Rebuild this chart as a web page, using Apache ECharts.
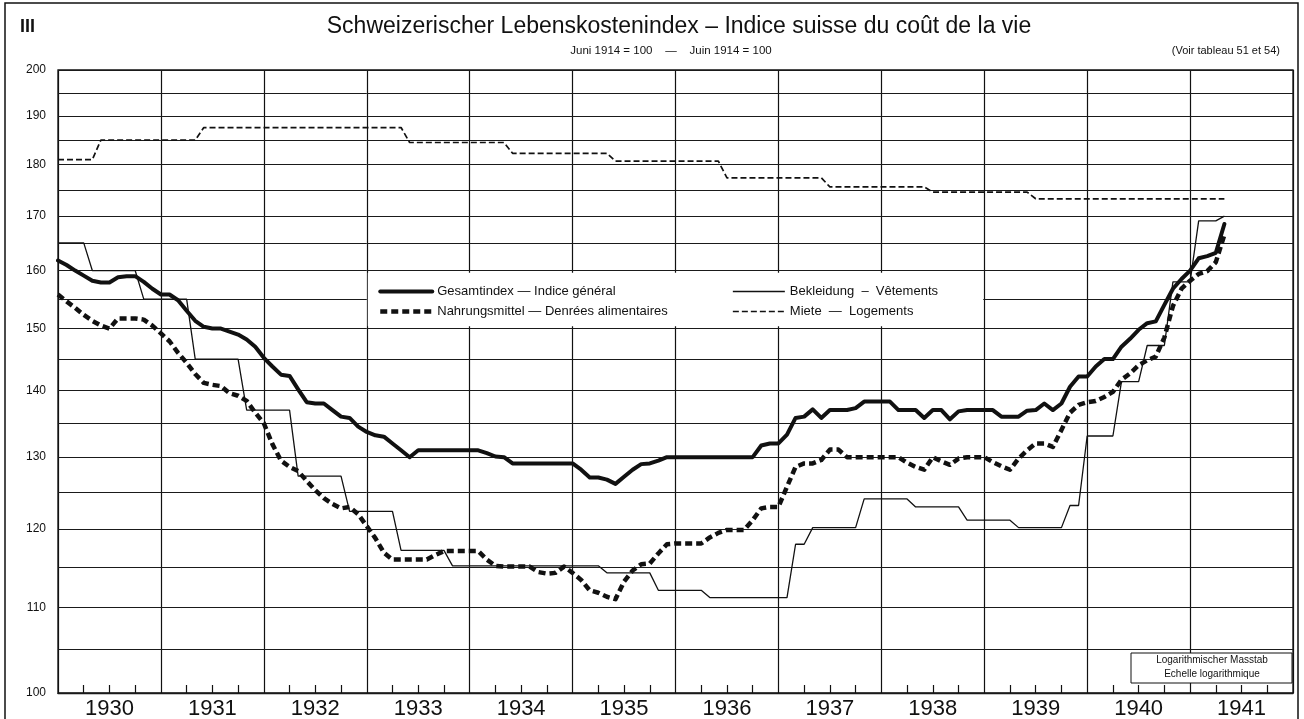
<!DOCTYPE html>
<html>
<head>
<meta charset="utf-8">
<script src="https://cdn.jsdelivr.net/npm/echarts@6/dist/echarts.min.js"></script>
<style>
html,body{margin:0;padding:0;background:#fff;}
#chart{width:1304px;height:719px;}
</style>
</head>
<body>
<div id="chart"></div>
<script>
// ---------- data (monthly, month-end positions starting Jan 1930) ----------
const startYear = 1930;
const yearLabels = ['1930','1931','1932','1933','1934','1935','1936','1937','1938','1939','1940','1941'];
const yGridValues = [100,105,110,115,120,125,130,135,140,145,150,155,160,165,170,175,180,185,190,195,200];
const yTickLabels = [100,110,120,130,140,150,160,170,180,190,200];

const seriesNames = {
  gesamt: 'Gesamtindex — Indice général',
  nahrung: 'Nahrungsmittel — Denrées alimentaires',
  bekleidung: 'Bekleidung  –  Vêtements',
  miete: 'Miete  —  Logements'
};

const gesamt = [
  161.8,161.0,160.0,159.1,158.2,157.9,157.9,158.8,159.0,159.0,158.0,156.8,
  155.8,155.8,154.8,153.0,151.3,150.3,150.0,150.0,149.5,149.0,148.2,147.0,
  145.2,143.8,142.5,142.3,140.2,138.2,138.0,138.0,137.0,136.0,135.8,134.5,
  133.7,133.2,133.0,132.0,131.0,130.0,131.0,131.0,131.0,131.0,131.0,131.0,
  131.0,131.0,130.6,130.1,130.0,129.1,129.1,129.1,129.1,129.1,129.1,129.1,
  129.1,128.2,127.1,127.1,126.8,126.2,127.2,128.2,129.0,129.1,129.5,130.0,
  130.0,130.0,130.0,130.0,130.0,130.0,130.0,130.0,130.0,130.0,131.7,132.0,
  132.0,133.3,135.8,136.0,137.1,135.8,137.0,137.0,137.0,137.3,138.3,138.3,
  138.3,138.3,137.0,137.0,137.0,135.8,137.0,137.0,135.6,136.8,137.0,137.0,
  137.0,137.0,136.0,136.0,136.0,136.9,137.0,138.0,137.0,138.0,140.6,142.2,
  142.2,143.8,145.0,145.0,147.0,148.3,149.8,150.9,151.2,154.0,156.8,158.5,
  160.0,162.2,162.6,163.2,168.5
];

const nahrung = [
  155.8,154.6,153.5,152.3,151.3,150.5,150.0,151.7,151.7,151.7,151.5,150.5,
  149.2,147.9,146.0,144.4,142.6,141.2,140.9,140.7,139.6,139.2,138.4,136.6,
  135.0,131.9,129.5,128.6,128.0,126.6,125.3,124.2,123.4,122.8,123.0,122.0,
  120.4,118.8,116.9,116.0,116.0,116.0,116.0,116.0,116.6,117.1,117.1,117.1,
  117.1,117.1,116.0,115.2,115.1,115.1,115.1,115.1,114.4,114.2,114.3,115.1,
  114.3,113.4,112.1,111.8,111.3,111.0,113.2,114.6,115.4,115.5,116.8,118.0,
  118.1,118.1,118.1,118.1,118.9,119.5,119.9,119.9,119.9,121.2,122.8,123.0,
  123.0,125.8,128.6,129.1,129.1,129.6,131.1,131.1,130.0,130.0,130.0,130.0,
  130.0,130.0,130.0,129.2,128.6,128.2,130.0,129.4,128.9,129.8,130.0,130.0,
  130.0,129.3,128.7,128.2,129.8,131.0,132.0,132.0,131.5,134.0,136.6,137.8,
  138.2,138.4,139.0,139.8,141.7,142.7,144.0,144.8,145.4,148.5,153.8,156.8,
  158.2,159.4,159.9,161.5,166.5
];

const bekleidung = [
  165.0,165.0,165.0,165.0,160.0,160.0,160.0,160.0,160.0,160.0,155.0,155.0,
  155.0,155.0,155.0,155.0,145.0,145.0,145.0,145.0,145.0,145.0,137.0,137.0,
  137.0,137.0,137.0,137.0,127.3,127.3,127.3,127.3,127.3,127.3,122.4,122.4,
  122.4,122.4,122.4,122.4,117.2,117.2,117.2,117.2,117.2,117.2,115.2,115.2,
  115.2,115.2,115.2,115.2,115.2,115.2,115.2,115.2,115.2,115.2,115.2,115.2,
  115.2,115.2,115.2,115.2,114.3,114.3,114.3,114.3,114.3,114.3,112.1,112.1,
  112.1,112.1,112.1,112.1,111.2,111.2,111.2,111.2,111.2,111.2,111.2,111.2,
  111.2,111.2,118.0,118.0,120.2,120.2,120.2,120.2,120.2,120.2,124.1,124.1,
  124.1,124.1,124.1,124.1,123.0,123.0,123.0,123.0,123.0,123.0,121.2,121.2,
  121.2,121.2,121.2,121.2,120.2,120.2,120.2,120.2,120.2,120.2,123.2,123.2,
  133.1,133.1,133.1,133.1,141.4,141.4,141.4,147.2,147.2,147.2,158.0,158.0,
  158.0,169.1,169.1,169.1,170.0
];

const miete = [
  181.0,181.0,181.0,181.0,181.0,185.0,185.0,185.0,185.0,185.0,185.0,185.0,
  185.0,185.0,185.0,185.0,185.0,187.6,187.6,187.6,187.6,187.6,187.6,187.6,
  187.6,187.6,187.6,187.6,187.6,187.6,187.6,187.6,187.6,187.6,187.6,187.6,
  187.6,187.6,187.6,187.6,187.6,184.5,184.5,184.5,184.5,184.5,184.5,184.5,
  184.5,184.5,184.5,184.5,184.5,182.3,182.3,182.3,182.3,182.3,182.3,182.3,
  182.3,182.3,182.3,182.3,182.3,180.7,180.7,180.7,180.7,180.7,180.7,180.7,
  180.7,180.7,180.7,180.7,180.7,180.7,177.4,177.4,177.4,177.4,177.4,177.4,
  177.4,177.4,177.4,177.4,177.4,177.4,175.6,175.6,175.6,175.6,175.6,175.6,
  175.6,175.6,175.6,175.6,175.6,175.6,174.6,174.6,174.6,174.6,174.6,174.6,
  174.6,174.6,174.6,174.6,174.6,174.6,173.3,173.3,173.3,173.3,173.3,173.3,
  173.3,173.3,173.3,173.3,173.3,173.3,173.3,173.3,173.3,173.3,173.3,173.3,
  173.3,173.3,173.3,173.3,173.3
];

// ---------- helpers ----------
const FONT = "'Liberation Sans', Arial, Helvetica, sans-serif";
const INK = '#111';
function toPoints(arr) { return arr.map((v, k) => [startYear + k / 12, v]); }

const gridMarkLines = yGridValues.map(v => ({
  yAxis: v,
  label: yTickLabels.indexOf(v) >= 0
    ? { show: true, position: 'start', formatter: String(v), distance: 12,
        color: INK, fontSize: 12, fontFamily: FONT, padding: [0, 0, 7, 0] }
    : { show: false }
}));

const legendCommon = {
  orient: 'vertical', top: 280, itemGap: 7,
  itemWidth: 52, itemHeight: 14, selectedMode: false,
  itemStyle: { color: 'rgba(0,0,0,0)', borderWidth: 0, opacity: 0 },
  lineStyle: { width: 'inherit', type: 'inherit', color: 'inherit' },
  textStyle: { color: INK, fontSize: 13, fontFamily: FONT }
};

const chart = echarts.init(document.getElementById('chart'));
chart.setOption({
  animation: false,
  backgroundColor: '#fff',
  grid: {
    left: 58, right: 11, top: 70, bottom: 26,
    show: true, borderColor: INK, borderWidth: 1.3,
    outerBoundsMode: 'none', containLabel: false
  },
  xAxis: [
    {
      type: 'value', min: 1930, max: 1942, interval: 1,
      axisLine: { show: true, lineStyle: { color: INK, width: 1.3 } },
      axisTick: { show: false, inside: true },
      minorTick: { show: true, splitNumber: 4, length: 8, lineStyle: { color: INK, width: 1.2 } },
      axisLabel: { show: false },
      splitLine: { show: true, lineStyle: { color: INK, width: 1.2 } },
      minorSplitLine: { show: false }
    },
    {
      type: 'value', min: 1930, max: 1942, interval: 0.5, position: 'bottom',
      axisLine: { show: false }, axisTick: { show: false }, splitLine: { show: false },
      axisLabel: {
        show: true, margin: 5, color: INK, fontSize: 22, fontFamily: FONT,
        formatter: function (v) {
          const i = Math.floor(v) - startYear;
          return (Math.abs(v - Math.floor(v) - 0.5) < 1e-6 && yearLabels[i]) ? yearLabels[i] : '';
        }
      }
    }
  ],
  yAxis: {
    type: 'log', logBase: 10, min: 100, max: 200,
    axisLine: { show: false }, axisTick: { show: false },
    axisLabel: { show: false }, splitLine: { show: false }
  },
  legend: [
    Object.assign({}, legendCommon, { data: [seriesNames.gesamt, seriesNames.nahrung], left: 373 }),
    Object.assign({}, legendCommon, { data: [seriesNames.bekleidung, seriesNames.miete], left: 727 })
  ],
  series: [
    {
      name: seriesNames.miete, type: 'line', data: toPoints(miete),
      symbol: 'none', z: 2, silent: true,
      lineStyle: { color: INK, width: 1.7, type: [6, 3] },
      itemStyle: { color: INK }
    },
    {
      name: seriesNames.bekleidung, type: 'line', data: toPoints(bekleidung),
      symbol: 'none', z: 2, silent: true,
      lineStyle: { color: INK, width: 1.3, type: 'solid' },
      itemStyle: { color: INK }
    },
    {
      name: seriesNames.nahrung, type: 'line', data: toPoints(nahrung),
      symbol: 'none', z: 3, silent: true,
      lineStyle: { color: INK, width: 4.5, type: [7, 4], join: 'round' },
      itemStyle: { color: INK }
    },
    {
      name: seriesNames.gesamt, type: 'line', data: toPoints(gesamt),
      symbol: 'none', z: 3, silent: true,
      lineStyle: { color: INK, width: 4, type: 'solid', join: 'round', cap: 'round' },
      itemStyle: { color: INK },
      markLine: {
        silent: true, symbol: ['none', 'none'], z: 0.5, animation: false,
        lineStyle: { color: '#1a1a1a', width: 1, type: 'solid' },
        emphasis: { disabled: true },
        label: { show: false },
        data: gridMarkLines
      },
      markArea: {
        silent: true, z: 1,
        itemStyle: { color: '#fff' },
        label: { show: false },
        emphasis: { disabled: true },
        data: [[{ xAxis: 1933.01, yAxis: 159.6 }, { xAxis: 1938.99, yAxis: 150.4 }]]
      }
    }
  ],
  graphic: [
    { type: 'rect', silent: true, z: 20,
      shape: { x: 5, y: 3, width: 1293, height: 730 },
      style: { fill: 'none', stroke: INK, lineWidth: 1.5 } },
    { type: 'text', x: 20, y: 27, silent: true, z: 20,
      style: { text: 'III', fontSize: 18, fontWeight: 'bold', fontFamily: FONT, fill: INK,
               align: 'left', textAlign: 'left', verticalAlign: 'middle', textVerticalAlign: 'middle' } },
    { type: 'text', x: 679, y: 27, silent: true, z: 20,
      style: { text: 'Schweizerischer Lebenskostenindex – Indice suisse du coût de la vie',
               fontSize: 23, fontFamily: FONT, fill: INK,
               align: 'center', textAlign: 'center', verticalAlign: 'middle', textVerticalAlign: 'middle' } },
    { type: 'text', x: 671, y: 51, silent: true, z: 20,
      style: { text: 'Juni 1914 = 100    —    Juin 1914 = 100', fontSize: 11.5, fontFamily: FONT, fill: INK,
               align: 'center', textAlign: 'center', verticalAlign: 'middle', textVerticalAlign: 'middle' } },
    { type: 'text', x: 1280, y: 51, silent: true, z: 20,
      style: { text: '(Voir tableau 51 et 54)', fontSize: 11, fontFamily: FONT, fill: INK,
               align: 'right', textAlign: 'right', verticalAlign: 'middle', textVerticalAlign: 'middle' } },
    { type: 'rect', silent: true, z: 20,
      shape: { x: 1131, y: 653, width: 161, height: 30 },
      style: { fill: '#fff', stroke: INK, lineWidth: 1 } },
    { type: 'text', x: 1212, y: 660, silent: true, z: 21,
      style: { text: 'Logarithmischer Masstab', fontSize: 10, fontFamily: FONT, fill: INK,
               align: 'center', textAlign: 'center', verticalAlign: 'middle', textVerticalAlign: 'middle' } },
    { type: 'text', x: 1212, y: 674, silent: true, z: 21,
      style: { text: 'Echelle logarithmique', fontSize: 10, fontFamily: FONT, fill: INK,
               align: 'center', textAlign: 'center', verticalAlign: 'middle', textVerticalAlign: 'middle' } }
  ]
});
</script>
</body>
</html>
